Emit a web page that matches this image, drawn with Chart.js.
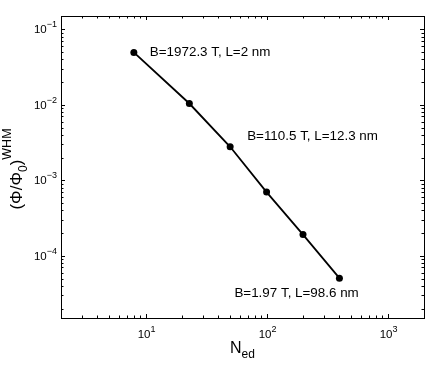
<!DOCTYPE html>
<html>
<head>
<meta charset="utf-8">
<script src="https://cdn.jsdelivr.net/npm/chart.js@4/dist/chart.umd.min.js"></script>
<style>
  body { margin: 0; background: #fff; }
  canvas { display: block; }
</style>
</head>
<body>
<canvas id="chart" width="443" height="369"></canvas>
<script>
const nEd = [8, 23, 50, 100, 200, 400];
const fluxWhm = [0.0494, 0.0104, 0.00278, 0.000698, 0.000191, 0.0000506];
const xDecades = [0, 1, 2, 3];
const yDecades = [-5, -4, -3, -2, -1];
const xTickExp = [1, 2, 3];
const yTickExp = [-1, -2, -3, -4];
const noteText = ["B=1972.3 T, L=2 nm", "B=110.5 T, L=12.3 nm", "B=1.97 T, L=98.6 nm"];
const notePoint = [0, 2, 5];

const FONT = "'Liberation Sans', Arial, sans-serif";

// text with a raised or lowered part, drawn left to right
function drawParts(ctx, parts, x, y) {
    parts.forEach(p => {
        ctx.font = p.size + "px " + FONT;
        ctx.fillText(p.t, x, y + (p.dy || 0));
        x += ctx.measureText(p.t).width;
    });
}
function partsWidth(ctx, parts) {
    let w = 0;
    parts.forEach(p => {
        ctx.font = p.size + "px " + FONT;
        w += ctx.measureText(p.t).width;
    });
    return w;
}
function powerLabel(e) {
    return [{ t: "10", size: 11.5 }, { t: String(e).replace("-", "\u2212"), size: 9, dy: -6 }];
}

const axesPlugin = {
    id: "axesPlugin",
    afterDraw(chart) {
        const ctx = chart.ctx;
        const a = chart.chartArea;
        const xs = chart.scales.x, ys = chart.scales.y;
        ctx.save();
        ctx.strokeStyle = "#000";
        ctx.lineWidth = 1;
        ctx.strokeRect(a.left + 0.5, a.top + 0.5, a.right - a.left, a.bottom - a.top);

        ctx.beginPath();
        xDecades.forEach(d => {
            for (let m = 1; m < 10; m++) {
                const v = m * Math.pow(10, d);
                if (v < xs.min || v > xs.max) continue;
                const px = Math.round(xs.getPixelForValue(v)) + 0.5;
                const len = m === 1 ? 4 : 2.5;
                ctx.moveTo(px, a.bottom); ctx.lineTo(px, a.bottom - len);
                ctx.moveTo(px, a.top); ctx.lineTo(px, a.top + len);
            }
        });
        yDecades.forEach(d => {
            for (let m = 1; m < 10; m++) {
                const v = m * Math.pow(10, d);
                if (v < ys.min || v > ys.max) continue;
                const py = Math.round(ys.getPixelForValue(v)) + 0.5;
                const len = m === 1 ? 4 : 2.5;
                ctx.moveTo(a.left, py); ctx.lineTo(a.left + len, py);
                ctx.moveTo(a.right, py); ctx.lineTo(a.right - len, py);
            }
        });
        ctx.stroke();

        ctx.fillStyle = "#000";
        ctx.textBaseline = "alphabetic";
        ctx.textAlign = "left";
        xTickExp.forEach(e => {
            const parts = powerLabel(e);
            const px = xs.getPixelForValue(Math.pow(10, e));
            drawParts(ctx, parts, px - partsWidth(ctx, parts) / 2 + 1, a.bottom + 20);
        });
        yTickExp.forEach(e => {
            const parts = powerLabel(e);
            const py = ys.getPixelForValue(Math.pow(10, e));
            drawParts(ctx, parts, a.left - 4 - partsWidth(ctx, parts), py + 4);
        });

        // x title N_ed
        const xt = [{ t: "N", size: 16 }, { t: "ed", size: 12, dy: 5 }];
        drawParts(ctx, xt, (a.left + a.right) / 2 - partsWidth(ctx, xt) / 2, a.bottom + 35);

        // y title (Phi/Phi_0)^WHM
        ctx.save();
        ctx.translate(22, (a.top + a.bottom) / 2 + 2);
        ctx.rotate(-Math.PI / 2);
        const yt = [{ t: "(\u03A6/\u03A6", size: 17 }, { t: "0", size: 12, dy: 5 }, { t: ")", size: 17 }, { t: "WHM", size: 12.5, dy: -11 }];
        drawParts(ctx, yt, -partsWidth(ctx, yt) / 2, 0);
        ctx.restore();

        // notes next to points
        const offs = [[16, 0], [17, -10], [-105, 15]];
        ctx.font = "13.4px " + FONT;
        ctx.textBaseline = "middle";
        noteText.forEach((t, i) => {
            const k = notePoint[i];
            const px = xs.getPixelForValue(nEd[k]);
            const py = ys.getPixelForValue(fluxWhm[k]);
            ctx.fillText(t, px + offs[i][0], py + offs[i][1]);
        });
        ctx.restore();
    }
};

new Chart(document.getElementById("chart"), {
    type: "line",
    data: {
        labels: nEd,
        datasets: [{
            data: nEd.map((x, i) => ({ x: x, y: fluxWhm[i] })),
            borderColor: "#000",
            backgroundColor: "#000",
            borderWidth: 1.8,
            pointRadius: 3.5,
            pointBackgroundColor: "#000",
            pointBorderWidth: 0,
            tension: 0,
            fill: false
        }]
    },
    options: {
        responsive: false,
        animation: false,
        devicePixelRatio: 1,
        layout: { padding: { left: 61, right: 19, top: 16, bottom: 51 } },
        plugins: { legend: { display: false }, tooltip: { enabled: false } },
        scales: {
            x: { type: "logarithmic", min: 2, max: 2000, display: false },
            y: { type: "logarithmic", min: 1.5e-5, max: 0.15, display: false }
        }
    },
    plugins: [axesPlugin]
});
</script>
</body>
</html>
